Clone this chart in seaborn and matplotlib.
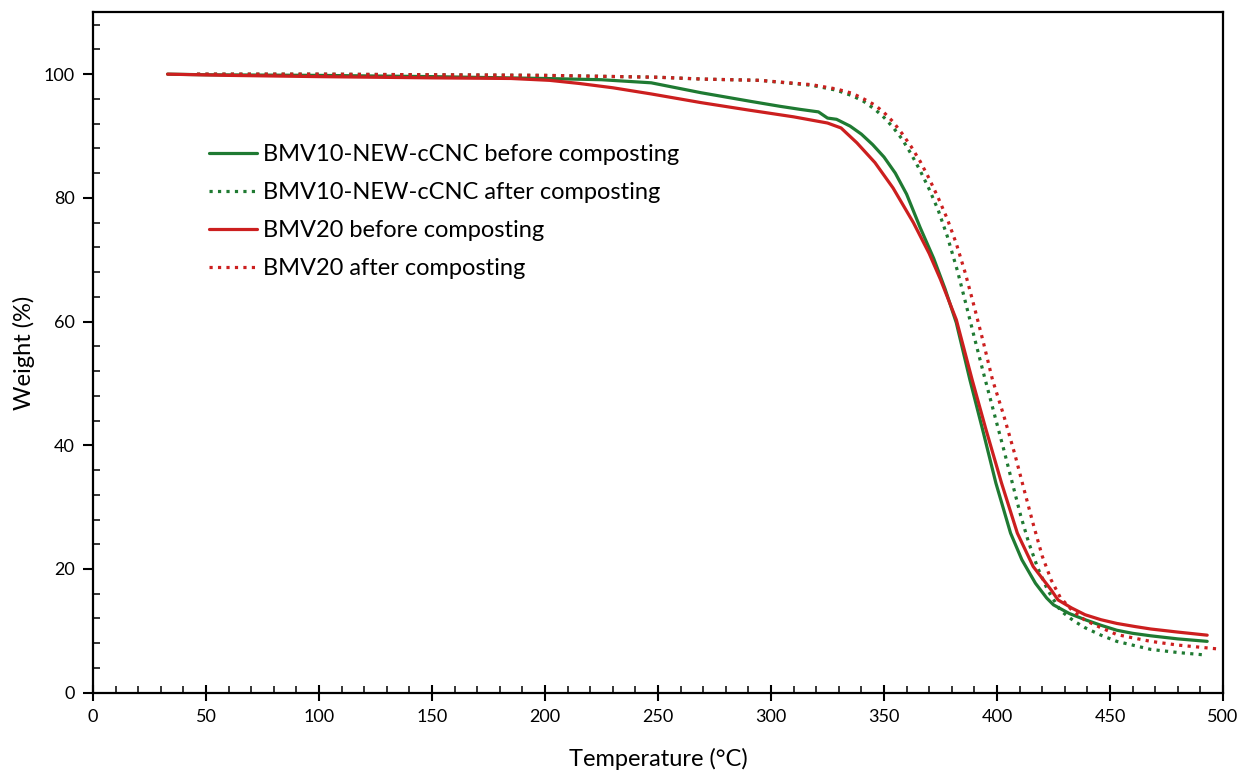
import numpy as np
import pandas as pd
import matplotlib
matplotlib.use("Agg")
import matplotlib.pyplot as plt
import seaborn as sns
from matplotlib.ticker import MultipleLocator

# ---- data (Temperature °C, Weight %) ----
bmv10_before_T = [33, 50, 100, 150, 200, 225, 247, 269, 291, 304, 313, 321, 325, 329, 335, 340, 345, 350, 355,
                  360, 366, 372, 377, 382, 388, 394, 399.5, 406, 411, 417, 422, 425, 432, 439, 446, 453, 460, 468, 480, 493]
bmv10_before_W = [100, 99.9, 99.8, 99.6, 99.3, 99.1, 98.6, 97.0, 95.6, 94.8, 94.3, 93.9, 92.9, 92.7, 91.6, 90.3, 88.6, 86.6, 84.0,
                  80.6, 75.2, 70.2, 65.3, 59.8, 50.6, 42.0, 33.9, 25.8, 21.5, 17.7, 15.3, 14.2, 12.8, 11.8, 10.9, 10.1, 9.6, 9.2, 8.7, 8.3]

bmv10_after_T = [46, 100, 150, 200, 250, 270, 295, 318, 329, 336, 341, 346, 350, 354, 358, 362, 366, 370, 374, 378,
                 382.5, 386, 390, 394, 399, 403, 407, 410.5, 414, 418, 422.4, 428, 434, 439, 446, 453, 468, 480, 492]
bmv10_after_W = [100, 100, 99.9, 99.8, 99.5, 99.2, 99.0, 98.2, 97.4, 96.5, 95.6, 94.3, 93.0, 91.4, 89.5, 87.1, 84.4, 81.4, 78.0, 73.8,
                 68.2, 63.2, 57.4, 51.7, 44.8, 39.3, 33.6, 28.6, 24.3, 20.2, 16.6, 13.3, 11.6, 10.5, 9.3, 8.3, 7.0, 6.5, 6.1]

bmv20_before_T = [33, 60, 100, 150, 185, 202, 215, 230, 247, 269, 290, 310, 325, 331, 338, 346, 354, 363, 370, 375,
                  382, 389, 395, 402, 409, 416, 424, 427, 433, 439, 446, 453, 461, 468, 480, 493]
bmv20_before_W = [100, 99.8, 99.6, 99.4, 99.3, 99.0, 98.5, 97.8, 96.8, 95.4, 94.2, 93.1, 92.1, 91.3, 88.9, 85.7, 81.6, 76.0, 71.0, 66.8,
                  60.3, 50.6, 42.7, 33.9, 25.8, 20.4, 16.6, 15.0, 13.7, 12.6, 11.8, 11.2, 10.7, 10.3, 9.8, 9.3]

bmv20_after_T = [46, 100, 150, 200, 250, 270, 295, 318, 329, 336, 341, 346, 350, 354, 358, 362, 366, 370, 374, 378,
                 382, 386, 390, 394, 398, 403, 408, 412, 416, 420, 424, 428, 433, 439, 446, 453, 461, 468, 480, 497]
bmv20_after_W = [100, 100, 99.9, 99.8, 99.5, 99.2, 99.0, 98.3, 97.6, 96.9, 96.0, 95.0, 93.8, 92.3, 90.4, 88.3, 85.9, 83.1, 80.0, 76.6,
                 72.6, 67.8, 62.3, 56.6, 50.6, 44.8, 38.4, 32.8, 27.3, 22.1, 18.2, 15.4, 13.4, 11.7, 10.5, 9.4, 8.8, 8.3, 7.7, 7.1]

labels = ["BMV10-NEW-cCNC before composting", "BMV10-NEW-cCNC after composting",
          "BMV20 before composting", "BMV20 after composting"]

GREEN = "#1f7a32"
RED = "#cc1f1f"

sns.set_theme(style="white")
plt.rcParams['font.family'] = ['Lato', 'DejaVu Sans']

fig = plt.figure(figsize=(12.39, 7.73), dpi=100)
ax = fig.add_axes([93/1239, 1-692.7/773, (1223-93)/1239, (692.7-12.3)/773])

series = [
    (bmv10_before_T, bmv10_before_W, labels[0], GREEN, '-'),
    (bmv10_after_T, bmv10_after_W, labels[1], GREEN, ':'),
    (bmv20_before_T, bmv20_before_W, labels[2], RED, '-'),
    (bmv20_after_T, bmv20_after_W, labels[3], RED, ':'),
]
for T, W, lab, col, ls in series:
    df = pd.DataFrame({"T": T, "W": W})
    sns.lineplot(data=df, x="T", y="W", ax=ax, color=col, linestyle=ls,
                 linewidth=2.3, label=lab, sort=False, estimator=None)

ax.set_xlim(0, 500)
ax.set_ylim(0, 110)
ax.xaxis.set_major_locator(MultipleLocator(50))
ax.xaxis.set_minor_locator(MultipleLocator(10))
ax.yaxis.set_minor_locator(MultipleLocator(4))
ax.set_yticks([0, 20, 40, 60, 80, 100])

for s in ax.spines.values():
    s.set_color('black')
    s.set_linewidth(1.6)

ax.tick_params(axis='x', which='major', direction='inout', length=11, width=1.5,
               labelsize=13, pad=6, colors='black', bottom=True)
ax.tick_params(axis='x', which='minor', direction='in', length=5, width=1.3, bottom=True)
ax.tick_params(axis='y', which='major', direction='out', length=7, width=1.5,
               labelsize=13, pad=6, colors='black', left=True)
ax.tick_params(axis='y', which='minor', direction='in', length=5, width=1.3, left=True)

ax.set_xlabel("Temperature (°C)", fontsize=17, labelpad=17, color='black')
ax.set_ylabel("Weight (%)", fontsize=17, labelpad=6, color='black')
ax.grid(False)

leg = ax.legend(loc='upper left', bbox_to_anchor=(209/1239, 1-144/773),
                bbox_transform=fig.transFigure, frameon=False, fontsize=17,
                handlelength=2.05, handletextpad=0.25, labelspacing=0.72,
                borderaxespad=0, borderpad=0)
for t in leg.get_texts():
    t.set_color('black')

fig.savefig("out.png", dpi=100)
